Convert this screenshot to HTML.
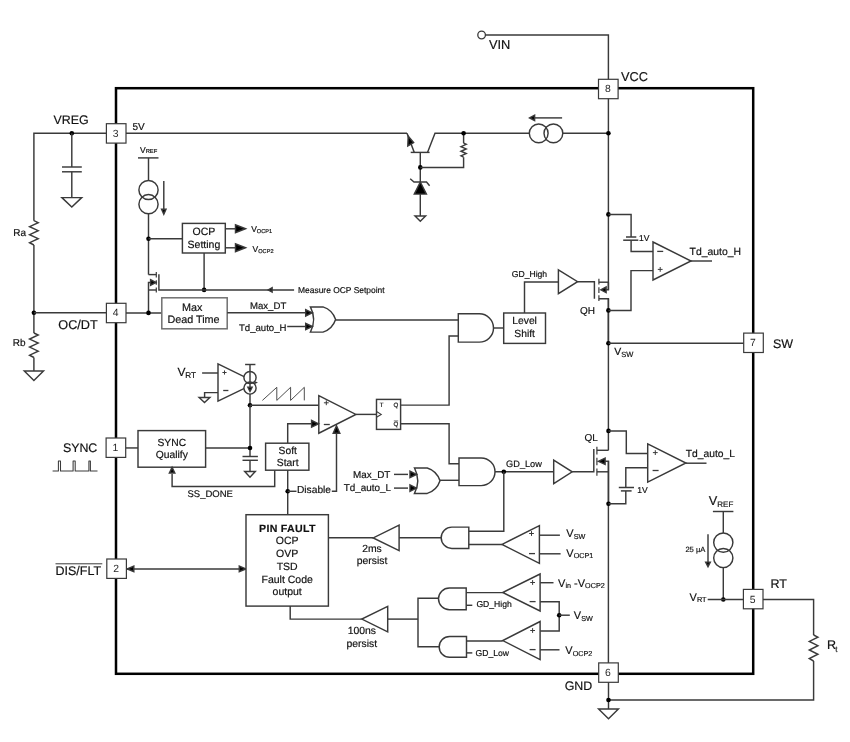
<!DOCTYPE html>
<html><head><meta charset="utf-8"><style>
html,body{margin:0;padding:0;background:#fff;}
body{width:850px;height:742px;overflow:hidden;}
svg{display:block;font-family:"Liberation Sans",sans-serif;}
#wrap{width:850px;height:742px;filter:grayscale(1);}
svg text{fill:#111;stroke:#111;stroke-width:0.18px;text-rendering:geometricPrecision;}
svg text.pn{fill:#2a2a2a;stroke:none;}
</style></head><body><div id="wrap">
<svg width="850" height="742" viewBox="0 0 850 742">
<rect x="0" y="0" width="850" height="742" fill="#fff"/>
<g stroke="#3a3a3a" stroke-width="1.45" fill="none" stroke-linejoin="miter" stroke-linecap="butt">
<circle cx="481.6" cy="35" r="3.8" fill="#fff" stroke-width="1.3"/>
<polyline points="485.4,35 608.4,35 608.4,79.5"/>
<text x="488.9" y="48.6" font-size="12.8">VIN</text>
<text x="621" y="80.8" font-size="12.8">VCC</text>
<line x1="608.4" y1="98" x2="608.4" y2="289.8"/>
<line x1="608.4" y1="298.7" x2="608.4" y2="450.3"/>
<line x1="608.4" y1="461.3" x2="608.4" y2="663"/>
<rect x="116.0" y="88.2" width="637.2" height="585.6" fill="none" stroke="#000" stroke-width="2.5"/>
<polyline points="106,133.3 33.9,133.3 33.9,220.7"/>
<polyline points="33.9,220.7 38.2,222.7 29.6,226.7 38.2,230.7 29.6,234.7 38.2,238.7 29.6,242.7 33.9,245"/>
<polyline points="33.9,245 33.9,333"/>
<polyline points="33.9,333 38.2,335.02 29.6,339.05 38.2,343.08 29.6,347.12 38.2,351.15 29.6,355.18 33.9,357.5"/>
<line x1="33.9" y1="357.5" x2="33.9" y2="371"/>
<polygon points="24.3,371 43.5,371 33.9,380.5" fill="#fff"/>
<circle cx="33.9" cy="312.8" r="2.3" fill="#000" stroke="none"/>
<line x1="33.9" y1="312.8" x2="106" y2="312.8"/>
<text x="53.5" y="123.8" font-size="12.4">VREG</text>
<text x="13.3" y="235.8" font-size="10">Ra</text>
<text x="12.8" y="345.8" font-size="10">Rb</text>
<text x="58.3" y="329.2" font-size="12.7">OC/DT</text>
<circle cx="71.8" cy="133.3" r="2.3" fill="#000" stroke="none"/>
<line x1="71.8" y1="133.3" x2="71.8" y2="167"/>
<line x1="62" y1="167" x2="81.8" y2="167"/>
<line x1="62" y1="171.8" x2="81.8" y2="171.8"/>
<line x1="71.8" y1="171.8" x2="71.8" y2="197.6"/>
<polygon points="61.9,197.6 81.7,197.6 71.8,207" fill="#fff"/>
<text x="62.9" y="451.8" font-size="12.4">SYNC</text>
<polyline points="52.6,471 58.4,471 58.4,461 60.5,461 60.5,471 73.1,471 73.1,461 75.2,461 75.2,471 88.9,471 88.9,461 90.4,461 90.4,471 97.5,471" stroke-width="1.05" stroke-linejoin="round"/>
<text x="55.5" y="574.9" font-size="12.5">DIS/FLT</text>
<line x1="55.5" y1="563.8" x2="102.3" y2="563.8" stroke-width="1"/>
<line x1="126" y1="133.3" x2="407" y2="133.3"/>
<text x="132.4" y="130.4" font-size="10">5V</text>
<text x="140" y="153" font-size="8.5">V<tspan font-size="5.8" dy="0.3">REF</tspan></text>
<line x1="138" y1="157.9" x2="158.5" y2="157.9"/>
<line x1="148.5" y1="157.9" x2="148.5" y2="180.4"/>
<circle cx="148.5" cy="190" r="9.6" fill="none"/>
<circle cx="148.5" cy="204.2" r="9.6" fill="none"/>
<line x1="163.8" y1="181" x2="163.8" y2="210"/>
<polygon points="163.8,214.2 161.6,209.2 166,209.2" fill="#000"/>
<line x1="148.5" y1="213.8" x2="148.5" y2="274.6"/>
<circle cx="148.5" cy="238.8" r="2.3" fill="#000" stroke="none"/>
<line x1="148.5" y1="238.8" x2="182.4" y2="238.8"/>
<rect x="182.4" y="223.4" width="42.9" height="29.6" fill="#fff"/>
<text x="203.9" y="235.3" font-size="10.5" text-anchor="middle">OCP</text>
<text x="203.9" y="247.6" font-size="10.5" text-anchor="middle">Setting</text>
<line x1="225.3" y1="228.8" x2="238" y2="228.8"/>
<polygon points="245.5,228.8 235.5,224.9 235.5,232.7" fill="#000"/>
<line x1="225.3" y1="247.8" x2="238" y2="247.8"/>
<polygon points="245.5,247.8 235.5,243.9 235.5,251.7" fill="#000"/>
<text x="251.2" y="231.9" font-size="8.5">V<tspan font-size="5.6" dy="0.8">OCP1</tspan></text>
<text x="252.6" y="252" font-size="8.5">V<tspan font-size="5.6" dy="0.8">OCP2</tspan></text>
<line x1="204.1" y1="253" x2="204.1" y2="289.9"/>
<circle cx="204.1" cy="289.9" r="2.3" fill="#000" stroke="none"/>
<polyline points="148.5,274.6 156.3,274.6"/>
<line x1="156.3" y1="272.1" x2="156.3" y2="277.4" stroke-width="1.2"/>
<line x1="156.3" y1="280.2" x2="156.3" y2="284.8" stroke-width="1.2"/>
<line x1="156.3" y1="287.4" x2="156.3" y2="292.6" stroke-width="1.2"/>
<polyline points="158.9,274.3 158.9,289.9 294.1,289.9"/>
<polygon points="268.3,289.9 272.1,287.8 272.1,292" fill="#000"/>
<text x="298" y="292.6" font-size="8.45">Measure OCP Setpoint</text>
<polyline points="156.3,282.5 148.5,282.5 148.5,312.9"/>
<polygon points="155.8,282.5 150.6,279.7 150.6,285.3" fill="#000"/>
<line x1="148.5" y1="290" x2="156.3" y2="290"/>
<line x1="126" y1="312.9" x2="161.8" y2="312.9"/>
<circle cx="148.5" cy="312.9" r="2.3" fill="#000" stroke="none"/>
<rect x="161.8" y="297.8" width="65.4" height="31" fill="#fff" stroke="#707070" stroke-width="1.5"/>
<text x="192.2" y="311" font-size="10.8" text-anchor="middle">Max</text>
<text x="193.5" y="323.4" font-size="10.8" text-anchor="middle">Dead Time</text>
<line x1="227.2" y1="312.8" x2="306" y2="312.8"/>
<text x="250" y="308.8" font-size="9.6">Max_DT</text>
<line x1="287.2" y1="326.5" x2="306" y2="326.5"/>
<text x="239" y="330.7" font-size="9.6">Td_auto_H</text>
<path d="M310.4,306.9 L323,306.9 Q332.45,309.92 335.6,319.5 Q332.45,329.08 323,332.1 L310.4,332.1 Q316.9,319.5 310.4,306.9 Z" fill="#fff"/>
<polygon points="312.2,312.8 305.7,309.6 305.7,316" fill="#000"/>
<polygon points="312.2,326.5 305.7,323.3 305.7,329.7" fill="#000"/>
<line x1="335.6" y1="319.9" x2="458.3" y2="319.9"/>
<path d="M458.3,313.8 H479.35 A14.15,14.15 0 0 1 479.35,342.1 H458.3 Z" fill="#fff"/>
<polyline points="458.3,336 449.1,336 449.1,405.1 400.6,405.1"/>
<line x1="493.5" y1="328" x2="503.7" y2="328"/>
<rect x="503.7" y="313" width="41.8" height="30.4" fill="#fff"/>
<text x="524.6" y="324.4" font-size="10.3" text-anchor="middle">Level</text>
<text x="524.6" y="336.7" font-size="10.3" text-anchor="middle">Shift</text>
<polyline points="524.5,313 524.5,282 558.4,282"/>
<text x="511.8" y="277.3" font-size="8.6">GD_High</text>
<polyline points="407,133.3 414.3,152.4"/>
<polygon points="409.2,138.8 409.2,138.8 409.2,138.8" fill="#000"/>
<polygon points="408.2,136.2 407.8,146 413.6,142.6" fill="#000"/>
<line x1="410.7" y1="152.4" x2="429.6" y2="152.4"/>
<polyline points="427.5,152.4 435,133.3 608.4,133.3"/>
<line x1="420.3" y1="152.4" x2="420.3" y2="182"/>
<circle cx="420.3" cy="167.4" r="2.3" fill="#000" stroke="none"/>
<polyline points="420.3,167.4 463.6,167.4 463.6,157.2"/>
<polyline points="463.6,143.2 466.2,144.35 461,146.66 466.2,148.96 461,151.27 466.2,153.57 461,155.87 463.6,157.2"/>
<line x1="463.6" y1="133.3" x2="463.6" y2="143.2"/>
<circle cx="463.6" cy="133.3" r="2.3" fill="#000" stroke="none"/>
<polygon points="420.3,182 414.3,194.1 426.4,194.1" fill="#000"/>
<polyline points="410.2,178.8 414,182 426.5,182 429.6,185.7"/>
<line x1="420.3" y1="194.1" x2="420.3" y2="216"/>
<polygon points="415,216 425.6,216 420.3,221.3" fill="#fff"/>
<circle cx="538.7" cy="133.3" r="9.4" fill="#fff" stroke="none"/>
<circle cx="553.4" cy="133.3" r="9.4" fill="#fff" stroke="none"/>
<circle cx="538.7" cy="133.3" r="9.4" fill="none"/>
<circle cx="553.4" cy="133.3" r="9.4" fill="none"/>
<line x1="535" y1="117.9" x2="562.1" y2="117.9"/>
<polygon points="529.6,117.9 534.6,115.2 534.6,120.6" fill="#000"/>
<circle cx="608.4" cy="133.3" r="2.3" fill="#000" stroke="none"/>
<circle cx="608.4" cy="214.4" r="2.3" fill="#000" stroke="none"/>
<polyline points="608.4,214.4 631.1,214.4 631.1,237"/>
<line x1="626" y1="237" x2="636.3" y2="237" stroke-width="1.5"/>
<line x1="623.2" y1="240.2" x2="638.3" y2="240.2" stroke-width="1.5"/>
<polyline points="631.1,240.2 631.1,251.4 653,251.4"/>
<text x="639" y="241.1" font-size="8.5">1V</text>
<polygon points="558.4,269.8 577.6,281.7 558.4,293.6" fill="#fff"/>
<polyline points="577.6,281.8 594.4,281.8 594.4,298.7"/>
<line x1="598.9" y1="278.7" x2="598.9" y2="284.6" stroke-width="1.2"/>
<line x1="598.9" y1="287.2" x2="598.9" y2="293.1" stroke-width="1.2"/>
<line x1="598.9" y1="295.2" x2="598.9" y2="301.1" stroke-width="1.2"/>
<line x1="598.9" y1="282.2" x2="608.4" y2="282.2"/>
<polyline points="606.1,289.8 608.4,289.8 608.4,282.2"/>
<polygon points="600.8,289.8 606.1,287 606.1,292.6" fill="#000"/>
<polyline points="598.9,298.7 608.4,298.7 608.4,343.3"/>
<text x="580" y="313.5" font-size="10">QH</text>
<circle cx="608.4" cy="310.4" r="2.3" fill="#000" stroke="none"/>
<polyline points="608.4,310.4 631,310.4 631,270.6 653,270.6"/>
<polygon points="653,242 691,261 653,280" fill="#fff"/>
<line x1="657.2" y1="251.4" x2="663.2" y2="251.4" stroke-width="1.3"/>
<line x1="657.8" y1="269.4" x2="662.6" y2="269.4" stroke-width="1"/>
<line x1="660.2" y1="267" x2="660.2" y2="271.8" stroke-width="1"/>
<line x1="691" y1="261" x2="712" y2="261"/>
<text x="689.6" y="255" font-size="10.4">Td_auto_H</text>
<circle cx="608.4" cy="343.3" r="2.3" fill="#000" stroke="none"/>
<line x1="608.4" y1="343.3" x2="744" y2="343.3"/>
<text x="614.2" y="354.8" font-size="10.5">V<tspan font-size="7.5" dy="1.8">SW</tspan></text>
<text x="773" y="348.2" font-size="12.5">SW</text>
<text x="177.6" y="376.3" font-size="12">V</text>
<text x="185.3" y="378.3" font-size="8.2">RT</text>
<line x1="202.1" y1="373" x2="218.2" y2="373"/>
<polyline points="218.2,392.6 204.6,392.6 204.6,397.4"/>
<polygon points="199.1,397.4 209.9,397.4 204.5,402.6" fill="#fff"/>
<polygon points="218,363.9 256.3,382.6 218,401.2" fill="#fff"/>
<line x1="222.4" y1="372.5" x2="226.6" y2="372.5" stroke-width="1"/>
<line x1="224.5" y1="370.4" x2="224.5" y2="374.6" stroke-width="1"/>
<line x1="223.2" y1="390.5" x2="228.4" y2="390.5" stroke-width="1.3"/>
<line x1="245.1" y1="364.5" x2="255.4" y2="364.5"/>
<line x1="250" y1="364.5" x2="250" y2="405.2"/>
<circle cx="250" cy="377.5" r="6.1" fill="#fff" stroke="none"/>
<circle cx="250" cy="388" r="6.1" fill="#fff" stroke="none"/>
<circle cx="250" cy="377.5" r="6.1" fill="none"/>
<circle cx="250" cy="388" r="6.1" fill="none"/>
<line x1="250" y1="371" x2="250" y2="389"/>
<polygon points="250,391.5 247.9,387.3 252.1,387.3" fill="#000"/>
<circle cx="250" cy="405.2" r="2.3" fill="#000" stroke="none"/>
<line x1="250" y1="405.2" x2="318.8" y2="405.2"/>
<line x1="250" y1="405.2" x2="250" y2="456.5"/>
<polyline points="262.4,400.4 276.8,387.3 276.8,400.4 290.6,387.3 290.6,400.4 304.3,387.3 304.3,400.4" stroke-width="0.9"/>
<polygon points="318.8,395.6 355.9,414.4 318.8,433.2" fill="#fff"/>
<line x1="323.9" y1="402.8" x2="328.7" y2="402.8" stroke-width="1"/>
<line x1="326.3" y1="400.4" x2="326.3" y2="405.2" stroke-width="1"/>
<line x1="323.8" y1="424.5" x2="329.8" y2="424.5" stroke-width="1.3"/>
<polyline points="287.7,443.2 287.7,423.8 312,423.8"/>
<polygon points="318.6,423.8 311.6,420.5 311.6,427.1" fill="#000"/>
<line x1="355.9" y1="414.4" x2="376.5" y2="414.4"/>
<rect x="376.5" y="399.4" width="24.1" height="30" fill="#fff"/>
<polyline points="376.5,411.5 381.2,414.4 376.5,417.2" stroke-width="1.1"/>
<text x="379.8" y="407.3" font-size="6.2">T</text>
<text x="396" y="407.3" font-size="6.2" text-anchor="middle">Q</text>
<text x="396" y="425.6" font-size="6.2" text-anchor="middle">Q</text>
<line x1="393.8" y1="420.9" x2="398.2" y2="420.9" stroke-width="0.7"/>
<polyline points="400.6,423.8 449.1,423.8 449.1,463.8 459,463.8"/>
<line x1="125.5" y1="447.95" x2="138" y2="447.95"/>
<rect x="138" y="430.6" width="67.6" height="36.6" fill="#fff"/>
<text x="171.8" y="445.8" font-size="10.3" text-anchor="middle">SYNC</text>
<text x="171.8" y="458.2" font-size="10.3" text-anchor="middle">Qualify</text>
<line x1="205.6" y1="447.95" x2="250" y2="447.95"/>
<circle cx="250" cy="447.95" r="2.3" fill="#000" stroke="none"/>
<line x1="242.5" y1="456.5" x2="257.9" y2="456.5"/>
<line x1="242.5" y1="460.3" x2="257.9" y2="460.3"/>
<line x1="250" y1="460.3" x2="250" y2="471.5"/>
<polygon points="244.7,471.5 255.3,471.5 250,477.3" fill="#fff"/>
<polyline points="172.1,474 172.1,486.4 274.7,486.4 274.7,470.2"/>
<polygon points="172.1,467.4 169.4,472.9 174.8,472.9" fill="#000"/>
<text x="187.5" y="496.8" font-size="9.5">SS_DONE</text>
<rect x="265.6" y="443.2" width="43.3" height="27" fill="#fff"/>
<text x="287.7" y="453.5" font-size="10.3" text-anchor="middle">Soft</text>
<text x="287.7" y="465.8" font-size="10.3" text-anchor="middle">Start</text>
<line x1="287.7" y1="470.2" x2="287.7" y2="514.7"/>
<circle cx="287.7" cy="491.3" r="2.3" fill="#000" stroke="none"/>
<line x1="287.7" y1="491.3" x2="296.5" y2="491.3"/>
<text x="297" y="493.3" font-size="10.2">Disable</text>
<polyline points="331.8,491.3 336.5,491.3 336.5,432"/>
<polygon points="336.5,425.8 333.2,433.3 339.8,433.3" fill="#000"/>
<line x1="394" y1="474.4" x2="408" y2="474.4"/>
<line x1="394" y1="488.1" x2="408" y2="488.1"/>
<text x="353.1" y="477.5" font-size="9.9">Max_DT</text>
<text x="343.8" y="491.3" font-size="9.9">Td_auto_L</text>
<path d="M414.5,468 L427.25,468 Q436.81,471.05 440,480.7 Q436.81,490.35 427.25,493.4 L414.5,493.4 Q421,480.7 414.5,468 Z" fill="#fff"/>
<polygon points="416.5,474.4 410,471.2 410,477.6" fill="#000"/>
<polygon points="416.5,488.1 410,484.9 410,491.3" fill="#000"/>
<line x1="440" y1="480.3" x2="459" y2="480.3"/>
<path d="M459,458 H481.2 A13.8,13.8 0 0 1 481.2,485.6 H459 Z" fill="#fff"/>
<line x1="495" y1="471.8" x2="553.7" y2="471.8"/>
<circle cx="503.8" cy="471.8" r="2.3" fill="#000" stroke="none"/>
<text x="506.1" y="466.7" font-size="9.2">GD_Low</text>
<polyline points="503.8,471.8 503.8,531.3 468.8,531.3"/>
<polygon points="553.7,460.1 572.2,471.85 553.7,483.6" fill="#fff"/>
<polyline points="572.2,471.8 593.8,471.8 593.8,449"/>
<circle cx="608.5" cy="430.9" r="2.3" fill="#000" stroke="none"/>
<polyline points="608.5,430.9 626.3,430.9 626.3,453.4 647.7,453.4"/>
<text x="584.5" y="440.7" font-size="10">QL</text>
<line x1="596.9" y1="446.7" x2="596.9" y2="454.5" stroke-width="1.2"/>
<line x1="596.9" y1="457.8" x2="596.9" y2="465.3" stroke-width="1.2"/>
<line x1="596.9" y1="468.6" x2="596.9" y2="475.8" stroke-width="1.2"/>
<line x1="596.9" y1="450.3" x2="608.5" y2="450.3"/>
<polyline points="604.5,461.3 608.5,461.3 608.5,503.7"/>
<polygon points="598.3,461.3 605.1,458.2 605.1,464.4" fill="#000"/>
<line x1="596.9" y1="471.8" x2="608.5" y2="471.8"/>
<circle cx="608.5" cy="503.7" r="2.3" fill="#000" stroke="none"/>
<polyline points="608.5,503.7 625.8,503.7 625.8,490.9"/>
<line x1="618.8" y1="487.5" x2="634" y2="487.5" stroke-width="1.5"/>
<line x1="620.9" y1="490.9" x2="631.6" y2="490.9" stroke-width="1.5"/>
<polyline points="625.8,487.5 625.8,467.8 647.7,467.8"/>
<text x="637.3" y="493.3" font-size="8.5">1V</text>
<polygon points="647.7,443.9 685.9,463 647.7,482.1" fill="#fff"/>
<line x1="652.9" y1="452.6" x2="657.7" y2="452.6" stroke-width="1"/>
<line x1="655.3" y1="450.2" x2="655.3" y2="455" stroke-width="1"/>
<line x1="652.6" y1="470.5" x2="658.6" y2="470.5" stroke-width="1.3"/>
<line x1="685.9" y1="463.2" x2="706.5" y2="463.2"/>
<text x="685.8" y="456.6" font-size="10.3">Td_auto_L</text>
<text x="708.8" y="505.2" font-size="12.8">V<tspan font-size="8" dy="1.5">REF</tspan></text>
<line x1="712.9" y1="511.5" x2="733.4" y2="511.5"/>
<line x1="723.3" y1="511.5" x2="723.3" y2="533"/>
<circle cx="723.3" cy="542.6" r="9.6" fill="none"/>
<circle cx="723.3" cy="558" r="9.6" fill="none"/>
<line x1="723.3" y1="566.9" x2="723.3" y2="599.45"/>
<line x1="708" y1="534.3" x2="708" y2="563"/>
<polygon points="708,566.6 705.7,562.1 710.3,562.1" fill="#000"/>
<text x="685.4" y="552.2" font-size="7.6">25 µA</text>
<circle cx="723.3" cy="599.45" r="2.3" fill="#000" stroke="none"/>
<line x1="707.7" y1="599.45" x2="743.6" y2="599.45"/>
<text x="689.6" y="601.2" font-size="11">V<tspan font-size="7.3" dy="0.5">RT</tspan></text>
<polyline points="762.8,599.45 813.6,599.45 813.6,635"/>
<polyline points="813.6,635 817.9,637.14 809.3,641.42 817.9,645.7 809.3,649.98 817.9,654.26 809.3,658.54 813.6,661"/>
<polyline points="813.6,661 813.6,700 608.5,700"/>
<text x="770.5" y="587.5" font-size="12.5">RT</text>
<text x="827" y="649.3" font-size="12.5">R</text>
<text x="835.2" y="652.3" font-size="8">t</text>
<line x1="608.5" y1="682" x2="608.5" y2="709"/>
<circle cx="608.5" cy="700" r="2.3" fill="#000" stroke="none"/>
<polygon points="598.6,709 618.4,709 608.5,718.8" fill="#fff"/>
<text x="564.7" y="689.7" font-size="12.4">GND</text>
<polyline points="126.7,568.9 246,568.9"/>
<polygon points="127.3,568.9 133.8,566.2 133.8,571.6" fill="#000"/>
<polygon points="245.8,568.9 239.3,566.2 239.3,571.6" fill="#000"/>
<rect x="246" y="514.7" width="82.4" height="91.4" fill="#fff"/>
<text x="287.4" y="531.7" font-size="10.6" text-anchor="middle" font-weight="bold" letter-spacing="0.3">PIN FAULT</text>
<text x="287.2" y="544.2" font-size="10.5" text-anchor="middle">OCP</text>
<text x="287.2" y="557.1" font-size="10.5" text-anchor="middle">OVP</text>
<text x="287.2" y="569.6" font-size="10.5" text-anchor="middle">TSD</text>
<text x="287.2" y="582.6" font-size="10.5" text-anchor="middle">Fault Code</text>
<text x="287.2" y="594.8" font-size="10.5" text-anchor="middle">output</text>
<line x1="328.4" y1="537.7" x2="373.2" y2="537.7"/>
<polygon points="399.1,525.2 373.2,537.95 399.1,550.7" fill="#fff"/>
<line x1="399.1" y1="537.7" x2="441.2" y2="537.7"/>
<text x="372" y="551.7" font-size="10.4" text-anchor="middle">2ms</text>
<text x="372" y="564.2" font-size="10.4" text-anchor="middle">persist</text>
<path d="M468.8,527.1 H451.85 A10.65,10.65 0 0 0 451.85,548.4 H468.8 Z" fill="#fff"/>
<line x1="468.8" y1="544.5" x2="502" y2="544.5"/>
<polyline points="290.2,606.1 290.2,619.1 361.8,619.1"/>
<polygon points="387.7,606.3 361.8,619.1 387.7,631.9" fill="#fff"/>
<line x1="387.7" y1="619.1" x2="418" y2="619.1"/>
<polyline points="438.5,598.2 418,598.2 418,646.8 439.2,646.8"/>
<text x="361.8" y="634" font-size="10.4" text-anchor="middle">100ns</text>
<text x="361.8" y="646.6" font-size="10.4" text-anchor="middle">persist</text>
<path d="M466.2,588 H449.35 A10.85,10.85 0 0 0 449.35,609.7 H466.2 Z" fill="#fff"/>
<path d="M466.5,636.5 H449.6 A10.4,10.4 0 0 0 449.6,657.3 H466.5 Z" fill="#fff"/>
<line x1="466.2" y1="592.6" x2="502.7" y2="592.6"/>
<line x1="466.2" y1="605.3" x2="472.3" y2="605.3"/>
<text x="476.4" y="607.1" font-size="8.6">GD_High</text>
<line x1="466.5" y1="640.9" x2="502.7" y2="640.9"/>
<line x1="466.5" y1="652.9" x2="472.3" y2="652.9"/>
<text x="475.5" y="656.1" font-size="8.6">GD_Low</text>
<polygon points="539.4,525.6 502,544.45 539.4,563.3" fill="#fff"/>
<line x1="529.1" y1="533.5" x2="533.9" y2="533.5" stroke-width="1"/>
<line x1="531.5" y1="531.1" x2="531.5" y2="535.9" stroke-width="1"/>
<line x1="529" y1="553.6" x2="535" y2="553.6" stroke-width="1.3"/>
<line x1="539.4" y1="535.2" x2="559.9" y2="535.2"/>
<line x1="539.4" y1="553.8" x2="560.6" y2="553.8"/>
<text x="566.3" y="537.3" font-size="11">V<tspan font-size="7.2" dy="1.8">SW</tspan></text>
<text x="566.3" y="556.6" font-size="11">V<tspan font-size="7.2" dy="1.4">OCP1</tspan></text>
<polygon points="540.1,574 502.7,592.5 540.1,611" fill="#fff"/>
<line x1="530.2" y1="582.5" x2="535" y2="582.5" stroke-width="1"/>
<line x1="532.6" y1="580.1" x2="532.6" y2="584.9" stroke-width="1"/>
<line x1="529.6" y1="601.6" x2="535.6" y2="601.6" stroke-width="1.3"/>
<line x1="540.1" y1="582.7" x2="553.5" y2="582.7"/>
<text x="558.1" y="586.8" font-size="11">V<tspan font-size="7.2" dy="0.9">in</tspan><tspan dy="-0.9"> -V</tspan><tspan font-size="7.2" dy="0.9">OCP2</tspan></text>
<polyline points="540.1,601.8 559.2,601.8 559.2,631 540.1,631"/>
<circle cx="559.2" cy="615.2" r="2.3" fill="#000" stroke="none"/>
<line x1="559.2" y1="615.2" x2="569.8" y2="615.2"/>
<text x="573.8" y="619.4" font-size="11">V<tspan font-size="7.2" dy="1.8">SW</tspan></text>
<polygon points="540.1,621.5 502.7,640.55 540.1,659.6" fill="#fff"/>
<line x1="530.2" y1="630.5" x2="535" y2="630.5" stroke-width="1"/>
<line x1="532.6" y1="628.1" x2="532.6" y2="632.9" stroke-width="1"/>
<line x1="529.6" y1="649.6" x2="535.6" y2="649.6" stroke-width="1.3"/>
<line x1="540.1" y1="649.8" x2="559.5" y2="649.8"/>
<text x="565.3" y="654.2" font-size="11">V<tspan font-size="7.2" dy="1.4">OCP2</tspan></text>
<rect x="106.4" y="123.7" width="19.6" height="19.4" fill="#fff" stroke-width="1.2"/>
<text class="pn" x="115.7" y="136.8" font-size="10.4" text-anchor="middle">3</text>
<rect x="106.4" y="303.3" width="19.6" height="19.4" fill="#fff" stroke-width="1.2"/>
<text class="pn" x="115.7" y="316.4" font-size="10.4" text-anchor="middle">4</text>
<rect x="106.1" y="438" width="19.6" height="19.4" fill="#fff" stroke-width="1.2"/>
<text class="pn" x="115.4" y="451.1" font-size="10.4" text-anchor="middle">1</text>
<rect x="106.8" y="559" width="19.6" height="19.4" fill="#fff" stroke-width="1.2"/>
<text class="pn" x="116.1" y="572.1" font-size="10.4" text-anchor="middle">2</text>
<rect x="598.5" y="79.3" width="19.6" height="19.4" fill="#fff" stroke-width="1.2"/>
<text class="pn" x="607.8" y="92.4" font-size="10.4" text-anchor="middle">8</text>
<rect x="743.7" y="333.1" width="19.6" height="19.4" fill="#fff" stroke-width="1.2"/>
<text class="pn" x="753" y="346.2" font-size="10.4" text-anchor="middle">7</text>
<rect x="743.4" y="589.4" width="19.6" height="19.4" fill="#fff" stroke-width="1.2"/>
<text class="pn" x="752.7" y="602.5" font-size="10.4" text-anchor="middle">5</text>
<rect x="598.7" y="662.9" width="19.6" height="19.4" fill="#fff" stroke-width="1.2"/>
<text class="pn" x="608" y="676" font-size="10.4" text-anchor="middle">6</text>
</g>
</svg></div>
</body></html>
